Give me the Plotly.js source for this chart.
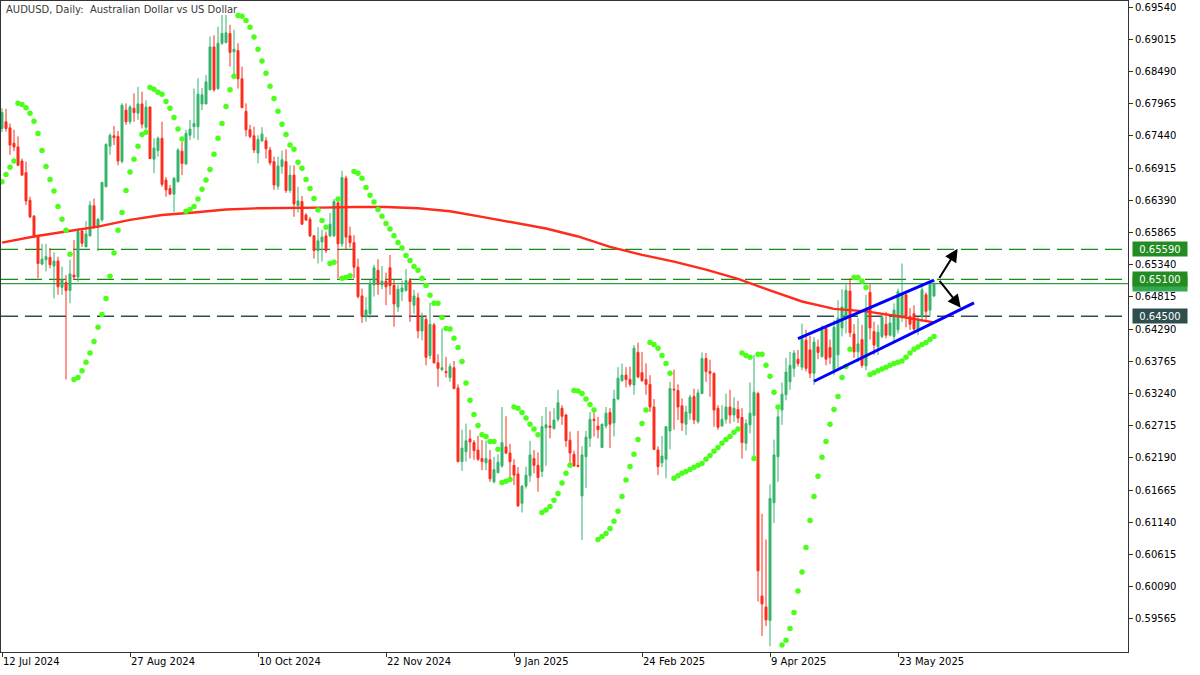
<!DOCTYPE html>
<html><head><meta charset="utf-8">
<script src="https://cdn.plot.ly/plotly-3.0.1.min.js"></script>
<style>html,body{margin:0;padding:0;background:#fff}#chart{width:1200px;height:675px}</style>
</head><body><div id="chart"></div>
<script>
// ---- DATA (AUDUSD daily, 12 Jul 2024 -> early Jun 2025) ----
const open=[
0.6756,0.6767,0.6757,0.6732,0.6726,0.6703,0.6684,0.6639,0.6613,0.6581,
0.6535,0.6542,0.6546,0.6532,0.6540,0.6497,0.6505,0.6492,0.6517,0.6514,
0.6589,0.6563,0.6581,0.6630,0.6595,0.6607,0.6661,0.6727,0.6744,0.6743,
0.6702,0.6786,0.6767,0.6789,0.6781,0.6796,0.6758,0.6791,0.6706,0.6720,
0.6740,0.6672,0.6658,0.6649,0.6669,0.6719,0.6698,0.6745,0.6759,0.6759,
0.6796,0.6796,0.6819,0.6889,0.6821,0.6895,0.6896,0.6911,0.6881,0.6883,
0.6837,0.6784,0.6754,0.6744,0.6716,0.6736,0.6736,0.6721,0.6702,0.6662,
0.6694,0.6702,0.6655,0.6680,0.6630,0.6637,0.6615,0.6608,0.6581,0.6557,
0.6571,0.6581,0.6581,0.6581,0.6635,0.6568,0.6675,0.6581,0.6570,0.6530,
0.6483,0.6449,0.6454,0.6501,0.6525,0.6501,0.6507,0.6529,0.6500,0.6465,
0.6490,0.6492,0.6508,0.6468,0.6480,0.6426,0.6445,0.6386,0.6436,0.6374,
0.6363,0.6360,0.6350,0.6366,0.6333,0.6213,0.6229,0.6250,0.6244,0.6232,
0.6218,0.6211,0.6216,0.6180,0.6195,0.6206,0.6237,0.6227,0.6207,0.6193,
0.6145,0.6173,0.6190,0.6218,0.6207,0.6197,0.6268,0.6271,0.6267,0.6282,
0.6300,0.6289,0.6248,0.6225,0.6207,0.6157,0.6221,0.6251,0.6282,0.6271,
0.6236,0.6271,0.6293,0.6276,0.6315,0.6345,0.6354,0.6347,0.6338,0.6391,
0.6358,0.6347,0.6339,0.6302,0.6232,0.6211,0.6217,0.6263,0.6331,0.6329,
0.6304,0.6274,0.6292,0.6319,0.6278,0.6324,0.6381,0.6360,0.6357,0.6300,
0.6271,0.6282,0.6302,0.6289,0.6298,0.6285,0.6243,0.6273,0.6288,0.6324,
0.5994,0.5976,0.5954,0.6146,0.6221,0.6297,0.6322,0.6343,0.6365,0.6380,
0.6367,0.6411,0.6395,0.6357,0.6400,0.6384,0.6430,0.6399,0.6362,0.6387,
0.6431,0.6447,0.6491,0.6421,0.6392,0.6412,0.6369,0.6489,0.6425,0.6400,
0.6417,0.6437,0.6419,0.6417,0.6428,0.6450,0.6485,0.6450,0.6454,0.6426,
0.6449,0.6485,0.6460,0.6483];
const high=[
0.6789,0.6788,0.6764,0.6754,0.6743,0.6707,0.6702,0.6645,0.6615,0.6582,
0.6568,0.6568,0.6561,0.6554,0.6547,0.6531,0.6517,0.6542,0.6574,0.6593,
0.6592,0.6605,0.6638,0.6642,0.6610,0.6669,0.6732,0.6748,0.6760,0.6752,
0.6797,0.6797,0.6794,0.6813,0.6824,0.6816,0.6802,0.6792,0.6740,0.6743,
0.6767,0.6677,0.6664,0.6677,0.6724,0.6734,0.6754,0.6770,0.6821,0.6838,
0.6822,0.6843,0.6906,0.6908,0.6922,0.6941,0.6941,0.6925,0.6917,0.6895,
0.6857,0.6797,0.6762,0.6759,0.6745,0.6758,0.6742,0.6726,0.6710,0.6710,
0.6720,0.6722,0.6696,0.6696,0.6661,0.6646,0.6618,0.6612,0.6582,0.6595,
0.6591,0.6588,0.6618,0.6641,0.6639,0.6687,0.6679,0.6596,0.6582,0.6544,
0.6495,0.6481,0.6509,0.6534,0.6543,0.6532,0.6521,0.6550,0.6509,0.6501,
0.6508,0.6527,0.6512,0.6493,0.6488,0.6456,0.6452,0.6472,0.6439,0.6388,
0.6430,0.6384,0.6373,0.6377,0.6339,0.6265,0.6275,0.6265,0.6248,0.6255,
0.6248,0.6247,0.6232,0.6221,0.6225,0.6302,0.6287,0.6242,0.6217,0.6204,
0.6175,0.6205,0.6247,0.6232,0.6228,0.6287,0.6302,0.6295,0.6300,0.6330,
0.6305,0.6291,0.6262,0.6231,0.6263,0.6238,0.6263,0.6294,0.6293,0.6286,
0.6275,0.6302,0.6300,0.6330,0.6367,0.6373,0.6367,0.6368,0.6403,0.6407,
0.6392,0.6373,0.6354,0.6315,0.6238,0.6255,0.6271,0.6343,0.6363,0.6339,
0.6316,0.6304,0.6322,0.6332,0.6331,0.6391,0.6390,0.6379,0.6358,0.6305,
0.6305,0.6324,0.6330,0.6318,0.6312,0.6300,0.6282,0.6342,0.6387,0.6327,
0.6128,0.6086,0.6176,0.6249,0.6305,0.6342,0.6382,0.6392,0.6395,0.6395,
0.6438,0.6428,0.6418,0.6416,0.6412,0.6435,0.6434,0.6412,0.6444,0.6476,
0.6494,0.6502,0.6512,0.6437,0.6447,0.6436,0.6485,0.6502,0.6441,0.6436,
0.6452,0.6457,0.6449,0.6471,0.6495,0.6536,0.6489,0.6463,0.6468,0.6449,
0.6498,0.6489,0.6506,0.6509];
const low=[
0.6750,0.6751,0.6713,0.6719,0.6695,0.6679,0.6631,0.6610,0.6577,0.6512,
0.6533,0.6523,0.6528,0.6479,0.6485,0.6485,0.6347,0.6471,0.6509,0.6506,
0.6563,0.6563,0.6580,0.6593,0.6556,0.6604,0.6661,0.6713,0.6729,0.6696,
0.6699,0.6762,0.6763,0.6767,0.6770,0.6756,0.6754,0.6706,0.6683,0.6710,
0.6661,0.6645,0.6648,0.6620,0.6669,0.6680,0.6697,0.6737,0.6740,0.6737,
0.6786,0.6796,0.6819,0.6816,0.6819,0.6892,0.6895,0.6857,0.6838,0.6821,
0.6789,0.6743,0.6740,0.6716,0.6699,0.6734,0.6707,0.6696,0.6656,0.6656,
0.6682,0.6651,0.6651,0.6612,0.6619,0.6599,0.6605,0.6579,0.6544,0.6536,
0.6539,0.6553,0.6579,0.6579,0.6512,0.6563,0.6559,0.6562,0.6512,0.6479,
0.6439,0.6441,0.6447,0.6482,0.6485,0.6494,0.6468,0.6485,0.6433,0.6457,
0.6475,0.6490,0.6441,0.6454,0.6414,0.6411,0.6370,0.6380,0.6373,0.6335,
0.6360,0.6350,0.6343,0.6331,0.6212,0.6198,0.6213,0.6218,0.6216,0.6214,
0.6199,0.6199,0.6180,0.6178,0.6194,0.6203,0.6225,0.6186,0.6175,0.6139,
0.6130,0.6169,0.6180,0.6194,0.6164,0.6188,0.6206,0.6251,0.6265,0.6278,
0.6273,0.6237,0.6210,0.6205,0.6204,0.6085,0.6170,0.6237,0.6254,0.6251,
0.6235,0.6267,0.6235,0.6254,0.6313,0.6343,0.6334,0.6335,0.6322,0.6349,
0.6343,0.6322,0.6294,0.6232,0.6191,0.6204,0.6186,0.6233,0.6265,0.6281,
0.6263,0.6256,0.6281,0.6274,0.6275,0.6323,0.6343,0.6319,0.6270,0.6265,
0.6270,0.6275,0.6275,0.6278,0.6276,0.6218,0.6231,0.6259,0.6218,0.5985,
0.5929,0.5945,0.5912,0.6113,0.6180,0.6273,0.6313,0.6330,0.6351,0.6368,
0.6362,0.6360,0.6349,0.6338,0.6380,0.6383,0.6370,0.6372,0.6354,0.6366,
0.6417,0.6422,0.6416,0.6382,0.6375,0.6366,0.6362,0.6412,0.6387,0.6387,
0.6414,0.6414,0.6417,0.6406,0.6422,0.6441,0.6432,0.6428,0.6423,0.6419,
0.6441,0.6444,0.6450,0.6481];
const close=[
0.6782,0.6756,0.6729,0.6726,0.6696,0.6680,0.6638,0.6612,0.6580,0.6536,
0.6543,0.6547,0.6534,0.6540,0.6498,0.6509,0.6492,0.6519,0.6514,0.6588,
0.6569,0.6584,0.6631,0.6594,0.6608,0.6668,0.6730,0.6745,0.6741,0.6703,
0.6794,0.6767,0.6791,0.6782,0.6796,0.6763,0.6791,0.6707,0.6724,0.6740,
0.6665,0.6656,0.6649,0.6675,0.6721,0.6699,0.6748,0.6755,0.6764,0.6812,
0.6811,0.6832,0.6889,0.6819,0.6895,0.6911,0.6912,0.6880,0.6885,0.6837,
0.6790,0.6754,0.6743,0.6721,0.6738,0.6747,0.6723,0.6700,0.6664,0.6695,
0.6705,0.6655,0.6680,0.6633,0.6638,0.6600,0.6607,0.6581,0.6557,0.6573,
0.6579,0.6557,0.6600,0.6637,0.6568,0.6676,0.6579,0.6570,0.6530,0.6482,
0.6450,0.6460,0.6504,0.6529,0.6502,0.6507,0.6498,0.6500,0.6470,0.6494,
0.6496,0.6508,0.6474,0.6483,0.6426,0.6449,0.6383,0.6437,0.6374,0.6365,
0.6366,0.6358,0.6368,0.6332,0.6213,0.6235,0.6247,0.6245,0.6231,0.6217,
0.6213,0.6218,0.6185,0.6200,0.6212,0.6244,0.6227,0.6213,0.6191,0.6141,
0.6173,0.6191,0.6224,0.6207,0.6187,0.6270,0.6273,0.6269,0.6281,0.6309,
0.6287,0.6247,0.6227,0.6206,0.6205,0.6224,0.6253,0.6282,0.6280,0.6265,
0.6274,0.6292,0.6274,0.6315,0.6349,0.6354,0.6347,0.6339,0.6398,0.6351,
0.6345,0.6339,0.6302,0.6233,0.6205,0.6222,0.6270,0.6332,0.6330,0.6302,
0.6276,0.6294,0.6318,0.6281,0.6325,0.6381,0.6360,0.6357,0.6297,0.6269,
0.6282,0.6302,0.6289,0.6300,0.6284,0.6244,0.6275,0.6292,0.6326,0.6035,
0.5981,0.5955,0.6153,0.6224,0.6286,0.6323,0.6359,0.6370,0.6390,0.6373,
0.6414,0.6365,0.6357,0.6408,0.6391,0.6428,0.6380,0.6383,0.6432,0.6447,
0.6465,0.6492,0.6423,0.6392,0.6405,0.6370,0.6463,0.6431,0.6403,0.6424,
0.6449,0.6419,0.6439,0.6460,0.6490,0.6485,0.6450,0.6437,0.6429,0.6442,
0.6493,0.6458,0.6502,0.6503];
// Parabolic SAR dots, one per bar
const sar=[
0.6669,0.6681,0.6693,0.6703,0.6797,0.6795,0.6790,0.6781,0.6768,0.6748,
0.6720,0.6694,0.6673,0.6654,0.6629,0.6608,0.6590,0.6551,0.6347,0.6350,
0.6361,0.6375,0.6390,0.6409,0.6432,0.6453,0.6479,0.6515,0.6553,0.6590,
0.6619,0.6655,0.6685,0.6706,0.6727,0.6746,0.6750,0.6823,0.6820,0.6815,
0.6812,0.6800,0.6789,0.6774,0.6755,0.6739,0.6621,0.6624,0.6629,0.6641,
0.6657,0.6672,0.6689,0.6714,0.6740,0.6764,0.6792,0.6819,0.6841,0.6940,
0.6939,0.6932,0.6921,0.6905,0.6885,0.6866,0.6846,0.6825,0.6805,0.6784,
0.6763,0.6746,0.6729,0.6722,0.6701,0.6691,0.6673,0.6658,0.6642,0.6623,
0.6606,0.6595,0.6536,0.6538,0.6641,0.6512,0.6513,0.6516,0.6686,0.6683,
0.6675,0.6660,0.6647,0.6636,0.6624,0.6613,0.6601,0.6592,0.6581,0.6570,
0.6561,0.6549,0.6541,0.6531,0.6525,0.6512,0.6500,0.6484,0.6471,0.6471,
0.6448,0.6430,0.6429,0.6414,0.6399,0.6376,0.6341,0.6313,0.6290,0.6272,
0.6257,0.6254,0.6246,0.6246,0.6233,0.6179,0.6181,0.6184,0.6302,0.6300,
0.6293,0.6284,0.6274,0.6266,0.6257,0.6130,0.6134,0.6140,0.6150,0.6161,
0.6178,0.6194,0.6207,0.6329,0.6328,0.6324,0.6315,0.6306,0.6297,0.6086,
0.6091,0.6096,0.6104,0.6116,0.6132,0.6156,0.6183,0.6205,0.6225,0.6249,
0.6275,0.6297,0.6407,0.6404,0.6398,0.6386,0.6373,0.6357,0.6186,0.6190,
0.6194,0.6197,0.6200,0.6204,0.6207,0.6210,0.6217,0.6223,0.6230,0.6236,
0.6243,0.6249,0.6254,0.6261,0.6266,0.6390,0.6386,0.6383,0.6218,0.6388,
0.6388,0.6370,0.6352,0.6326,0.6302,0.5914,0.5922,0.5941,0.5967,0.6002,
0.6033,0.6073,0.6117,0.6156,0.6189,0.6220,0.6246,0.6274,0.6298,0.6319,
0.6350,0.6368,0.6396,0.6513,0.6513,0.6507,0.6497,0.6355,0.6358,0.6361,
0.6364,0.6367,0.6370,0.6373,0.6375,0.6377,0.6383,0.6390,0.6396,0.6400,
0.6404,0.6407,0.6412,0.6417];
// 200-period moving average, sampled at bar positions
const maBar=[0,8,16,24,32,40,48,56,64,72,80,88,96,104,112,120,128,136,144,152,160,168,176,184,192,200,208,216,224,233];
const maVal=[0.6570,0.6580,0.6588,0.6596,0.6607,0.6615,0.6619,0.6624,0.6626,0.6626,0.6627,0.6628,0.6628,0.6626,0.6621,0.6612,0.6602,0.6593,0.6580,0.6563,0.6550,0.6539,0.6526,0.6511,0.6492,0.6474,0.6462,0.6458,0.6450,0.6440];
// x-axis date labels (every 32 bars)
const dateBars=[0,32,64,96,128,160,192,224];
const dateLabels=['12 Jul 2024','27 Aug 2024','10 Oct 2024','22 Nov 2024','9 Jan 2025','24 Feb 2025','9 Apr 2025','23 May 2025'];
// y-axis tick levels
const priceTicks=[0.69540,0.69015,0.68490,0.67965,0.67440,0.66915,0.66390,0.65865,0.65340,0.64815,0.64290,0.63765,0.63240,0.62715,0.62190,0.61665,0.61140,0.60615,0.60090,0.59565];
// horizontal levels
const resistLevel=0.65590, midLevel=0.65100, supportLevel=0.64500, bidLevel=0.6503;
// channel trend lines [bar, price]
const channelUpper=[[199,0.64135],[233,0.65087]];
const channelLower=[[203,0.63440],[243,0.64716]];
// scenario arrows: tail and two heads [bar, price]
const arrowTail=[234.1,0.6510];
const arrowHeads=[[238.9,0.6560],[239.7,0.6464]];

// ---- STYLE ----
const GREEN='#35B46C', RED='#FF2B1C', SARC='#4CFF1A';
const FONT='DejaVu Sans';
const idx=close.map((_,i)=>i);

const traces=[
 {type:'candlestick',x:idx,open:open,high:high,low:low,close:close,
  increasing:{line:{color:GREEN,width:1},fillcolor:GREEN},
  decreasing:{line:{color:RED,width:1},fillcolor:RED},
  whiskerwidth:0,hoverinfo:'skip',showlegend:false},
 {type:'scatter',mode:'lines',x:maBar,y:maVal,line:{color:RED,width:2.4},hoverinfo:'skip',showlegend:false},
 {type:'scatter',mode:'markers',x:idx,y:sar,marker:{color:SARC,size:5.5,line:{width:0}},hoverinfo:'skip',showlegend:false}
];

const hline=(y,color,dash,w)=>({type:'line',xref:'paper',x0:0,x1:1,yref:'y',y0:y,y1:y,layer:'below',line:{color:color,width:w,dash:dash}});
const shapes=[
 hline(resistLevel,'#1A8A1A','17px,7px',1.4),
 hline(midLevel,'#1A8A1A','17px,7px',1.4),
 hline(bidLevel,'#2EA043','solid',1.3),
 hline(supportLevel,'#2F4F4F','17px,7px',1.4),
 {type:'line',xref:'x',yref:'y',x0:channelUpper[0][0],y0:channelUpper[0][1],x1:channelUpper[1][0],y1:channelUpper[1][1],line:{color:'#0000FF',width:3}},
 {type:'line',xref:'x',yref:'y',x0:channelLower[0][0],y0:channelLower[0][1],x1:channelLower[1][0],y1:channelLower[1][1],line:{color:'#0000FF',width:3}}
];

const annotations=[];
annotations.push({xref:'paper',yref:'paper',x:0,y:1,xanchor:'left',yanchor:'top',xshift:3,yshift:-1,showarrow:false,
  text:'AUDUSD, Daily:\u00a0 Australian Dollar vs US Dollar',font:{family:FONT,size:10,color:'#3a3a3a'}});
dateBars.forEach((b,k)=>annotations.push({xref:'x',yref:'paper',x:b,y:0,xanchor:'left',yanchor:'top',xshift:-1,yshift:-2,
  showarrow:false,text:dateLabels[k],font:{family:FONT,size:10,color:'#000'}}));
const tag=(v,bg,txt)=>({xref:'paper',yref:'y',x:1,y:v,xanchor:'left',yanchor:'middle',xshift:4,showarrow:false,
  text:txt,bgcolor:bg,width:52,height:12,borderpad:1,align:'center',font:{family:FONT,size:10,color:'#fff'}});
annotations.push(tag(resistLevel,'#228B22',resistLevel.toFixed(5)));
annotations.push(tag(bidLevel,'#35A853',' '));   // bid tag, hidden behind the 0.65100 tag as in the original
annotations.push(tag(midLevel,'#228B22',midLevel.toFixed(5)));
annotations.push(tag(supportLevel,'#2F4F4F',supportLevel.toFixed(5)));
arrowHeads.forEach(h=>annotations.push({xref:'x',yref:'y',axref:'x',ayref:'y',x:h[0],y:h[1],ax:arrowTail[0],ay:arrowTail[1],
  text:'',showarrow:true,arrowhead:2,arrowsize:1.3,arrowwidth:2,arrowcolor:'#000'}));

const layout={
 width:1200,height:675,
 margin:{l:1,r:72,t:1,b:23,autoexpand:false},
 paper_bgcolor:'#fff',plot_bgcolor:'#fff',showlegend:false,
 boxgap:0.3,boxgroupgap:0.3,
 xaxis:{range:[-0.25,281.5],showgrid:false,zeroline:false,showline:true,mirror:true,linecolor:'#333',linewidth:1,
   tickmode:'array',tickvals:dateBars,ticks:'outside',ticklen:4,tickcolor:'#333',showticklabels:false,
   rangeslider:{visible:false}},
 yaxis:{range:[0.59027,0.69638],side:'right',showgrid:false,zeroline:false,showline:true,mirror:true,linecolor:'#333',linewidth:1,
   tickmode:'array',tickvals:priceTicks,ticktext:priceTicks.map(v=>v.toFixed(5)),ticks:'outside',ticklen:4,tickcolor:'#333',
   tickfont:{family:FONT,size:10,color:'#000'}},
 shapes:shapes,annotations:annotations
};
Plotly.newPlot('chart',traces,layout,{staticPlot:true});
</script>
</body></html>
